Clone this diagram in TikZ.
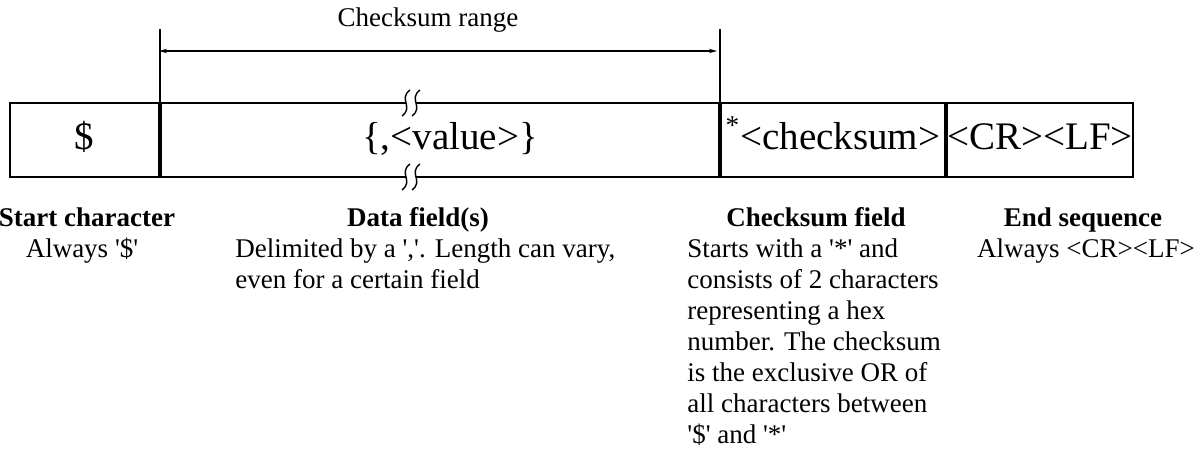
\documentclass[tikz,border=0pt]{standalone}
\usepackage{fontspec}
\setmainfont{Liberation Serif}
\usetikzlibrary{arrows.meta}
\newcommand{\sq}{\textquotesingle}
% break mark on a box edge
\newcommand{\brkmark}[2]{%
\fill[white] (#1-5,#2-2) rectangle (#1+5,#2+2);
\draw[line width=0.7pt] (#1-1,#2-13) .. controls (#1-13,#2-4) and (#1+3,#2+4) .. (#1-9,#2+13);
\draw[line width=0.7pt] (#1+9,#2-13) .. controls (#1-3,#2-4) and (#1+13,#2+4) .. (#1+1,#2+13);
}
\tikzset{
  cell/.style={draw, line width=1pt, minimum height=37pt, inner sep=0pt, text height=14pt, text depth=4pt, font=\fontsize{19.5}{22}\selectfont},
  desc/.style={inner sep=0pt, font=\fontsize{13.5}{15.5}\selectfont},
  head/.style={inner sep=0pt, font=\fontsize{13.5}{15.5}\selectfont\bfseries},
}
\begin{document}
\begin{tikzpicture}[x=0.5pt,y=-0.5pt]
\useasboundingbox (0,0) rectangle (1201,453);
% the frame
\node[cell, minimum width=74.5pt] (dollar) at (84.5,140) {\$};
\node[cell, minimum width=279pt, anchor=west] (data) at (dollar.east) {\hspace*{10pt}\{,<value>\}};
\node[cell, minimum width=112pt, anchor=west] (csum) at (data.east) {\smash{\textsuperscript{*}}<checksum>};
\node[cell, minimum width=93pt, anchor=west] (endseq) at (csum.east) {<CR><LF>};
%
\brkmark{411}{103}
\brkmark{411}{177}
%
\draw[line width=0.8pt] (dollar.north east) -- ++(0,-73) coordinate (tl);
\draw[line width=0.8pt] (data.north east) -- ++(0,-73) coordinate (tr);
\coordinate (al) at (159,51);
\coordinate (ar) at (717,51);
\draw[{Stealth[length=4pt,width=2.2pt]}-{Stealth[length=4pt,width=2.2pt]}, line width=0.6pt] (al) -- (ar);
\node[desc] (rangelbl) at (428,20) {Checksum range};
% descriptions (base = last line)
\node[head, anchor=base] (starthd) at (87,227) {Start character};
\node[desc, anchor=base] (starttxt) at (82,258) {Always \sq\$\sq};
\node[head, anchor=base] (datahd) at (418,227) {Data field(s)};
\node[desc, anchor=base west, align=left] (datatxt) at (235,289) {Delimited by a \sq,\sq. Length can vary,\\even for a certain field};
\node[head, anchor=base] (csumhd) at (816,227) {Checksum field};
\node[desc, anchor=base west, align=left] (csumtxt) at (687,444) {Starts with a \sq*\sq{} and\\consists of 2 characters\\representing a hex\\number. The checksum\\is the exclusive OR of\\all characters between\\\sq\$\sq{} and \sq*\sq};
\node[head, anchor=base] (endhd) at (1083,227) {End sequence};
\node[desc, anchor=base] (endtxt) at (1086,258) {Always <CR><LF>};
\end{tikzpicture}
\end{document}
